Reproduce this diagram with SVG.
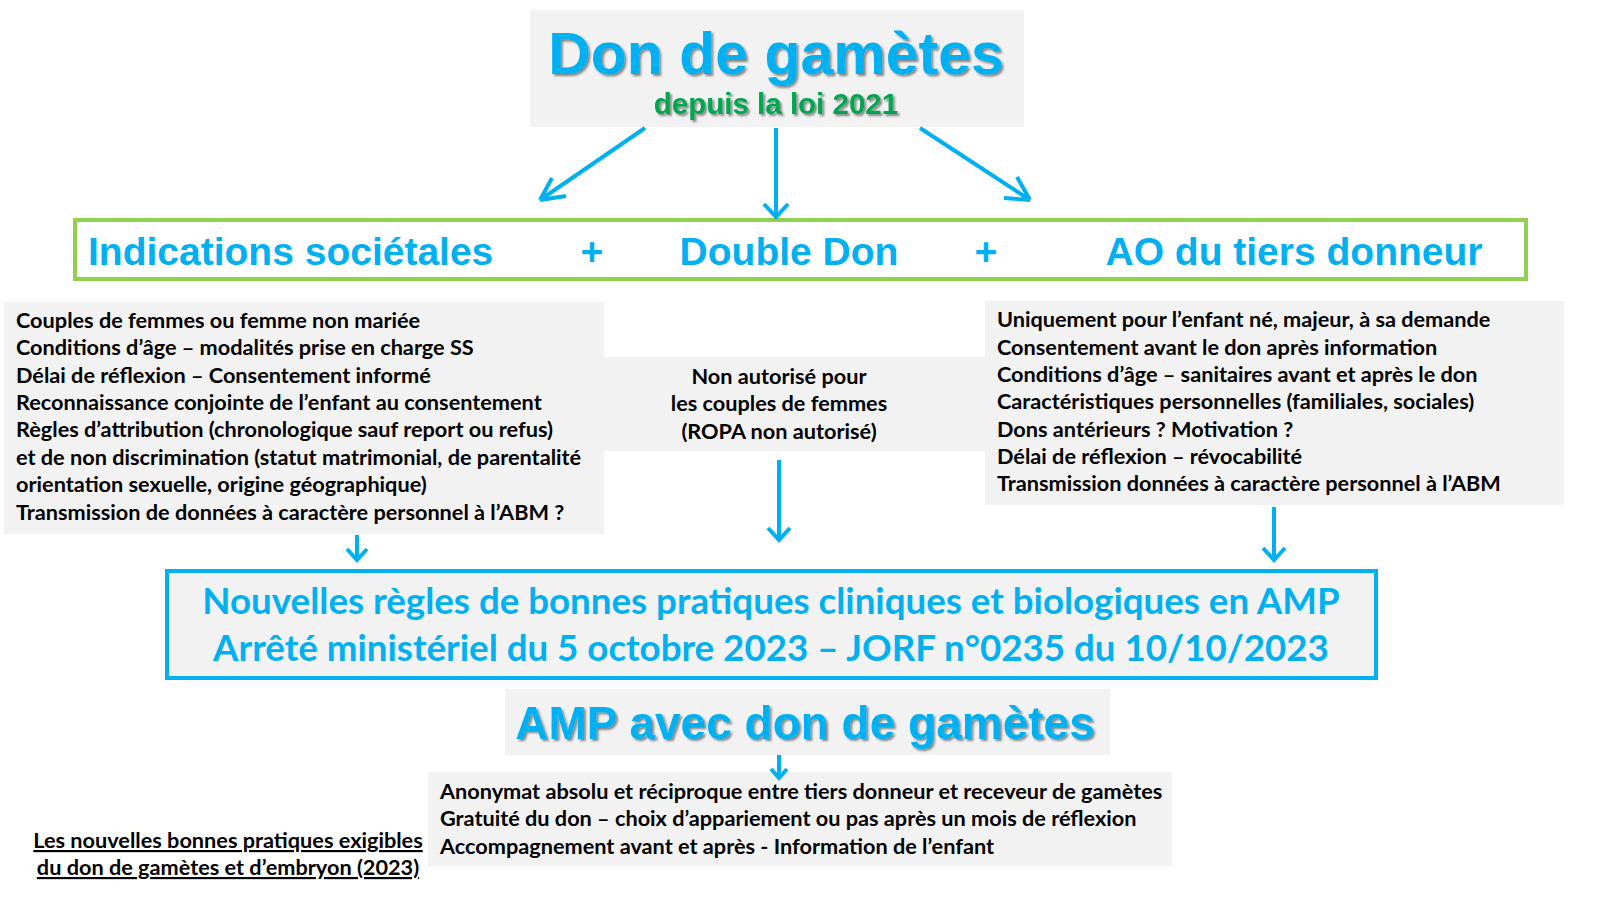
<svg xmlns="http://www.w3.org/2000/svg" width="1600" height="900" viewBox="0 0 1600 900">
<defs>
<style>
.box{fill:#f2f2f2}
.h{font-family:"Liberation Sans",Arial,sans-serif;font-weight:bold;fill:#00b0f0}
.c{font-family:Lato,"Open Sans",sans-serif;font-weight:bold;font-size:21.7px;fill:#000}
.cb{font-family:Lato,"Open Sans",sans-serif;font-weight:bold;fill:#00b0f0}
.a{stroke:#00b0f0;stroke-width:4;fill:none}
.sh{filter:url(#s)}
</style>
<filter id="s" x="-5%" y="-20%" width="110%" height="140%"><feDropShadow dx="2" dy="2" stdDeviation="1" flood-color="#000" flood-opacity="0.45"/></filter>
</defs>
<g id="title"><rect class="box" x="530" y="10" width="494" height="117"/>
<text class="h sh" x="776" y="74" font-size="59" text-anchor="middle">Don de gamètes</text>
<text class="sh" x="776" y="114" font-size="29.5" text-anchor="middle" font-family="Liberation Sans,Arial,sans-serif" font-weight="bold" fill="#00a650">depuis la loi 2021</text></g>
<g id="categories"><rect x="75" y="220" width="1451" height="59" fill="none" stroke="#92d050" stroke-width="4"/>
<text class="h" x="88" y="265" font-size="39">Indications sociétales</text>
<text class="h" x="592" y="265" font-size="39" text-anchor="middle">+</text>
<text class="h" x="789" y="265" font-size="39" text-anchor="middle">Double Don</text>
<text class="h" x="986" y="265" font-size="39" text-anchor="middle">+</text>
<text class="h" x="1294" y="265" font-size="39" text-anchor="middle">AO du tiers donneur</text></g>
<g id="left"><rect class="box" x="4" y="302" width="600" height="232"/>
<text class="c" x="16"><tspan x="16" y="328">Couples de femmes ou femme non mariée</tspan><tspan x="16" y="355">Conditions d’âge – modalités prise en charge SS</tspan><tspan x="16" y="383">Délai de réflexion – Consentement informé</tspan><tspan x="16" y="410">Reconnaissance conjointe de l’enfant au consentement</tspan><tspan x="16" y="437">Règles d’attribution (chronologique sauf report ou refus)</tspan><tspan x="16" y="465">et de non discrimination (statut matrimonial, de parentalité</tspan><tspan x="16" y="492">orientation sexuelle, origine géographique)</tspan><tspan x="16" y="520">Transmission de données à caractère personnel à l’ABM ?</tspan></text></g>
<g id="middle"><rect class="box" x="604" y="357" width="381" height="94"/>
<text class="c" text-anchor="middle"><tspan x="779" y="384">Non autorisé pour</tspan><tspan x="779" y="411">les couples de femmes</tspan><tspan x="779" y="439">(ROPA non autorisé)</tspan></text></g>
<g id="right"><rect class="box" x="985" y="301" width="579" height="204"/>
<text class="c"><tspan x="997" y="327">Uniquement pour l’enfant né, majeur, à sa demande</tspan><tspan x="997" y="355">Consentement avant le don après information</tspan><tspan x="997" y="382">Conditions d’âge – sanitaires avant et après le don</tspan><tspan x="997" y="409">Caractéristiques personnelles (familiales, sociales)</tspan><tspan x="997" y="437">Dons antérieurs ? Motivation ?</tspan><tspan x="997" y="464">Délai de réflexion – révocabilité</tspan><tspan x="997" y="491">Transmission données à caractère personnel à l’ABM</tspan></text></g>
<g id="rules"><rect class="box" x="167" y="571" width="1209" height="107" stroke="#00b0f0" stroke-width="4"/>
<text class="cb" font-size="36.7" text-anchor="middle"><tspan x="771" y="614">Nouvelles règles de bonnes pratiques cliniques et biologiques en AMP</tspan><tspan x="771" y="661">Arrêté ministériel du 5 octobre 2023 – JORF n°0235 du 10/10/2023</tspan></text></g>
<g id="amp"><rect class="box" x="505" y="689" width="605" height="66"/>
<text class="h sh" x="805" y="739" font-size="46" text-anchor="middle">AMP avec don de gamètes</text></g>
<g id="bottom"><rect class="box" x="428" y="772" width="744" height="94"/>
<text class="c"><tspan x="440" y="799">Anonymat absolu et réciproque entre tiers donneur et receveur de gamètes</tspan><tspan x="440" y="826">Gratuité du don –  choix d’appariement ou pas après un mois de réflexion</tspan><tspan x="440" y="854">Accompagnement avant et après - Information de l’enfant</tspan></text></g>
<g id="note"><text class="c" text-anchor="middle" text-decoration="underline"><tspan x="228" y="848">Les nouvelles bonnes pratiques exigibles</tspan><tspan x="228" y="875">du don de gamètes et d’embryon (2023)</tspan></text></g>
<g id="connectors" class="a">
<path d="M645 128L540 200M540 200L566 196M540 200L552 178"/>
<path d="M776 128V217M764 204L776 217L788 204"/>
<path d="M920 128L1030 200M1030 200L1017 177M1030 200L1004 198"/>
<path d="M357 535V560M347 549L357 560L367 549"/>
<path d="M779 460V540M768 528L779 540L790 528"/>
<path d="M1274 507V560M1263 548L1274 560L1285 548"/>
<path d="M779 755V778M771 769L779 778L787 769"/>
</g>
</svg>
